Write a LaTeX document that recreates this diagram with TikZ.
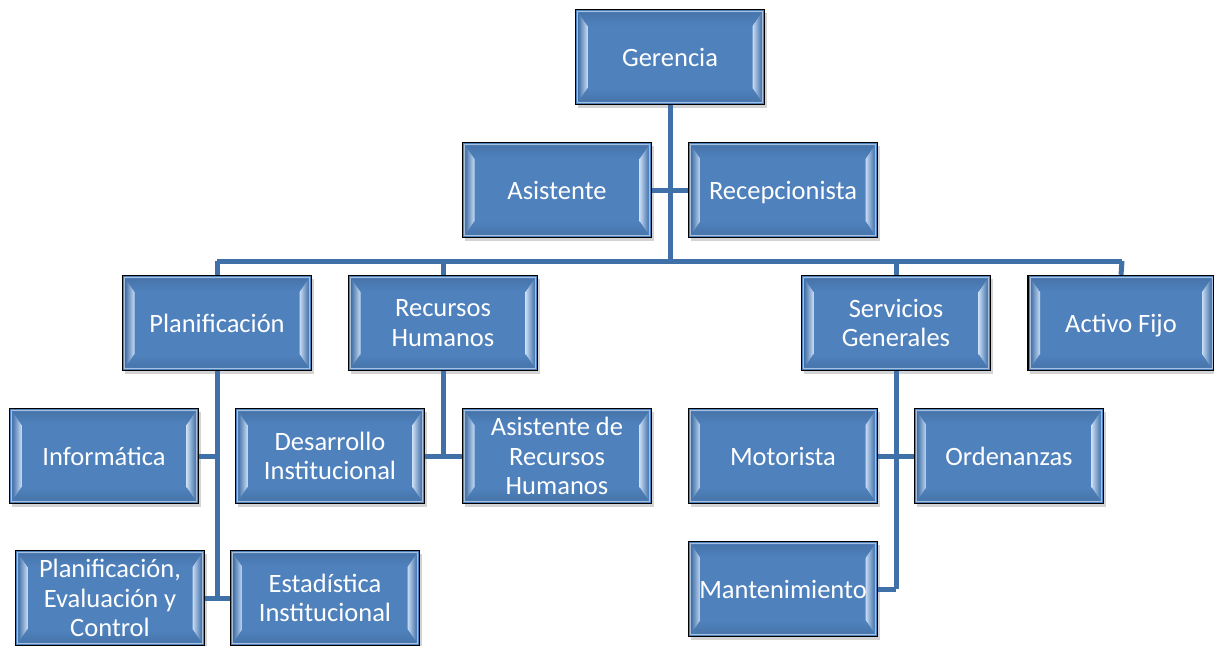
\documentclass[tikz,border=0pt]{standalone}
\usepackage{fontspec}
\setmainfont{Carlito}
\usetikzlibrary{shadows}
\definecolor{boxblue}{HTML}{4F81BD}
\definecolor{lineblue}{HTML}{4070A8}
\definecolor{bevlight}{HTML}{C8DCF4}
\tikzset{
  x=1pt, y=-1pt,
  orgbox/.style={rectangle, draw=black, line width=1.3pt, fill=boxblue,
    minimum width=189pt, minimum height=95pt, inner sep=1pt,
    text=white, align=center, font=\fontsize{26.5}{29.5}\selectfont,
    drop shadow={opacity=0.35, shadow xshift=2pt, shadow yshift=-3pt},
    path picture={
      \coordinate (nw) at (path picture bounding box.north west);
      \coordinate (se) at (path picture bounding box.south east);
      \fill[left color=boxblue!90!black, right color=bevlight]
        ([shift={(3pt,-3pt)}]nw) -- ([shift={(12pt,-16pt)}]nw) -- ([shift={(12pt,16pt)}]nw |- se) -- ([shift={(3pt,3pt)}]nw |- se) -- cycle;
      \fill[right color=boxblue!90!black, left color=bevlight]
        ([shift={(-3pt,-3pt)}]se |- nw) -- ([shift={(-12pt,-16pt)}]se |- nw) -- ([shift={(-12pt,16pt)}]se) -- ([shift={(-3pt,3pt)}]se) -- cycle;
      \fill[top color=boxblue!90!black, bottom color=boxblue]
        ([shift={(3pt,-3pt)}]nw) -- ([shift={(12pt,-16pt)}]nw) -- ([shift={(-12pt,-16pt)}]se |- nw) -- ([shift={(-3pt,-3pt)}]se |- nw) -- cycle;
      \fill[bottom color=boxblue!90!black, top color=boxblue]
        ([shift={(3pt,3pt)}]nw |- se) -- ([shift={(12pt,16pt)}]nw |- se) -- ([shift={(-12pt,16pt)}]se) -- ([shift={(-3pt,3pt)}]se) -- cycle;
      \draw[white!50!boxblue, line width=0.8pt] ([shift={(2pt,-2pt)}]nw) rectangle ([shift={(-2pt,2pt)}]se);
    }},
  nodesc/.style={text depth=0pt},
  conn/.style={draw=lineblue, line width=5pt}
}
\begin{document}
\begin{tikzpicture}
\useasboundingbox (0,0) rectangle (1214,645);
\coordinate (bus) at (670,261);
\coordinate (busL) at (217,261);
\coordinate (busR) at (1122,261);
\coordinate (pj) at (217,600);
\coordinate (sj) at (896,589);

\node[orgbox] (ger) at (670,57) {Gerencia};
\node[orgbox] (asi) at (557,190) {Asistente};
\node[orgbox, nodesc] (rec) at (783,190) {Recepcionista};
\node[orgbox] (pla) at (217,323) {Planificación};
\node[orgbox] (rh) at (443,323) {Recursos\\Humanos};
\node[orgbox] (sg) at (896,323) {Servicios\\Generales};
\node[orgbox, nodesc, minimum width=186pt] (af) at (1121,323) {Activo Fijo};
\node[orgbox] (inf) at (104,456) {Informática};
\node[orgbox] (des) at (330,456) {Desarrollo\\Institucional};
\node[orgbox] (arh) at (557,456) {Asistente de\\Recursos\\Humanos};
\node[orgbox] (mot) at (783,456) {Motorista};
\node[orgbox] (ord) at (1009,456) {Ordenanzas};
\node[orgbox] (pec) at (110,598) {Planificación,\\Evaluación y\\Control};
\node[orgbox] (est) at (325,598) {Estadística\\Institucional};
\node[orgbox] (man) at (783,589) {Mantenimiento};

\draw[conn] (ger.south) -- (bus);
\draw[conn] (asi.east) -- (rec.west);
\draw[conn] (busL) -- (busR);
\draw[conn] (busL) -- (pla.north);
\draw[conn] (rh.north |- bus) -- (rh.north);
\draw[conn] (sg.north |- bus) -- (sg.north);
\draw[conn] (busR) -- (af.north);
\draw[conn] (pla.south) -- (pj);
\draw[conn] (inf.east) -- (inf.east -| pla);
\draw[conn] (pec.east) -- (est.west);
\draw[conn] (rh.south) -- (rh.south |- des);
\draw[conn] (des.east) -- (arh.west);
\draw[conn] (sg.south) -- (sj);
\draw[conn] (mot.east) -- (ord.west);
\draw[conn] (man.east) -- (sj);
\end{tikzpicture}
\end{document}
